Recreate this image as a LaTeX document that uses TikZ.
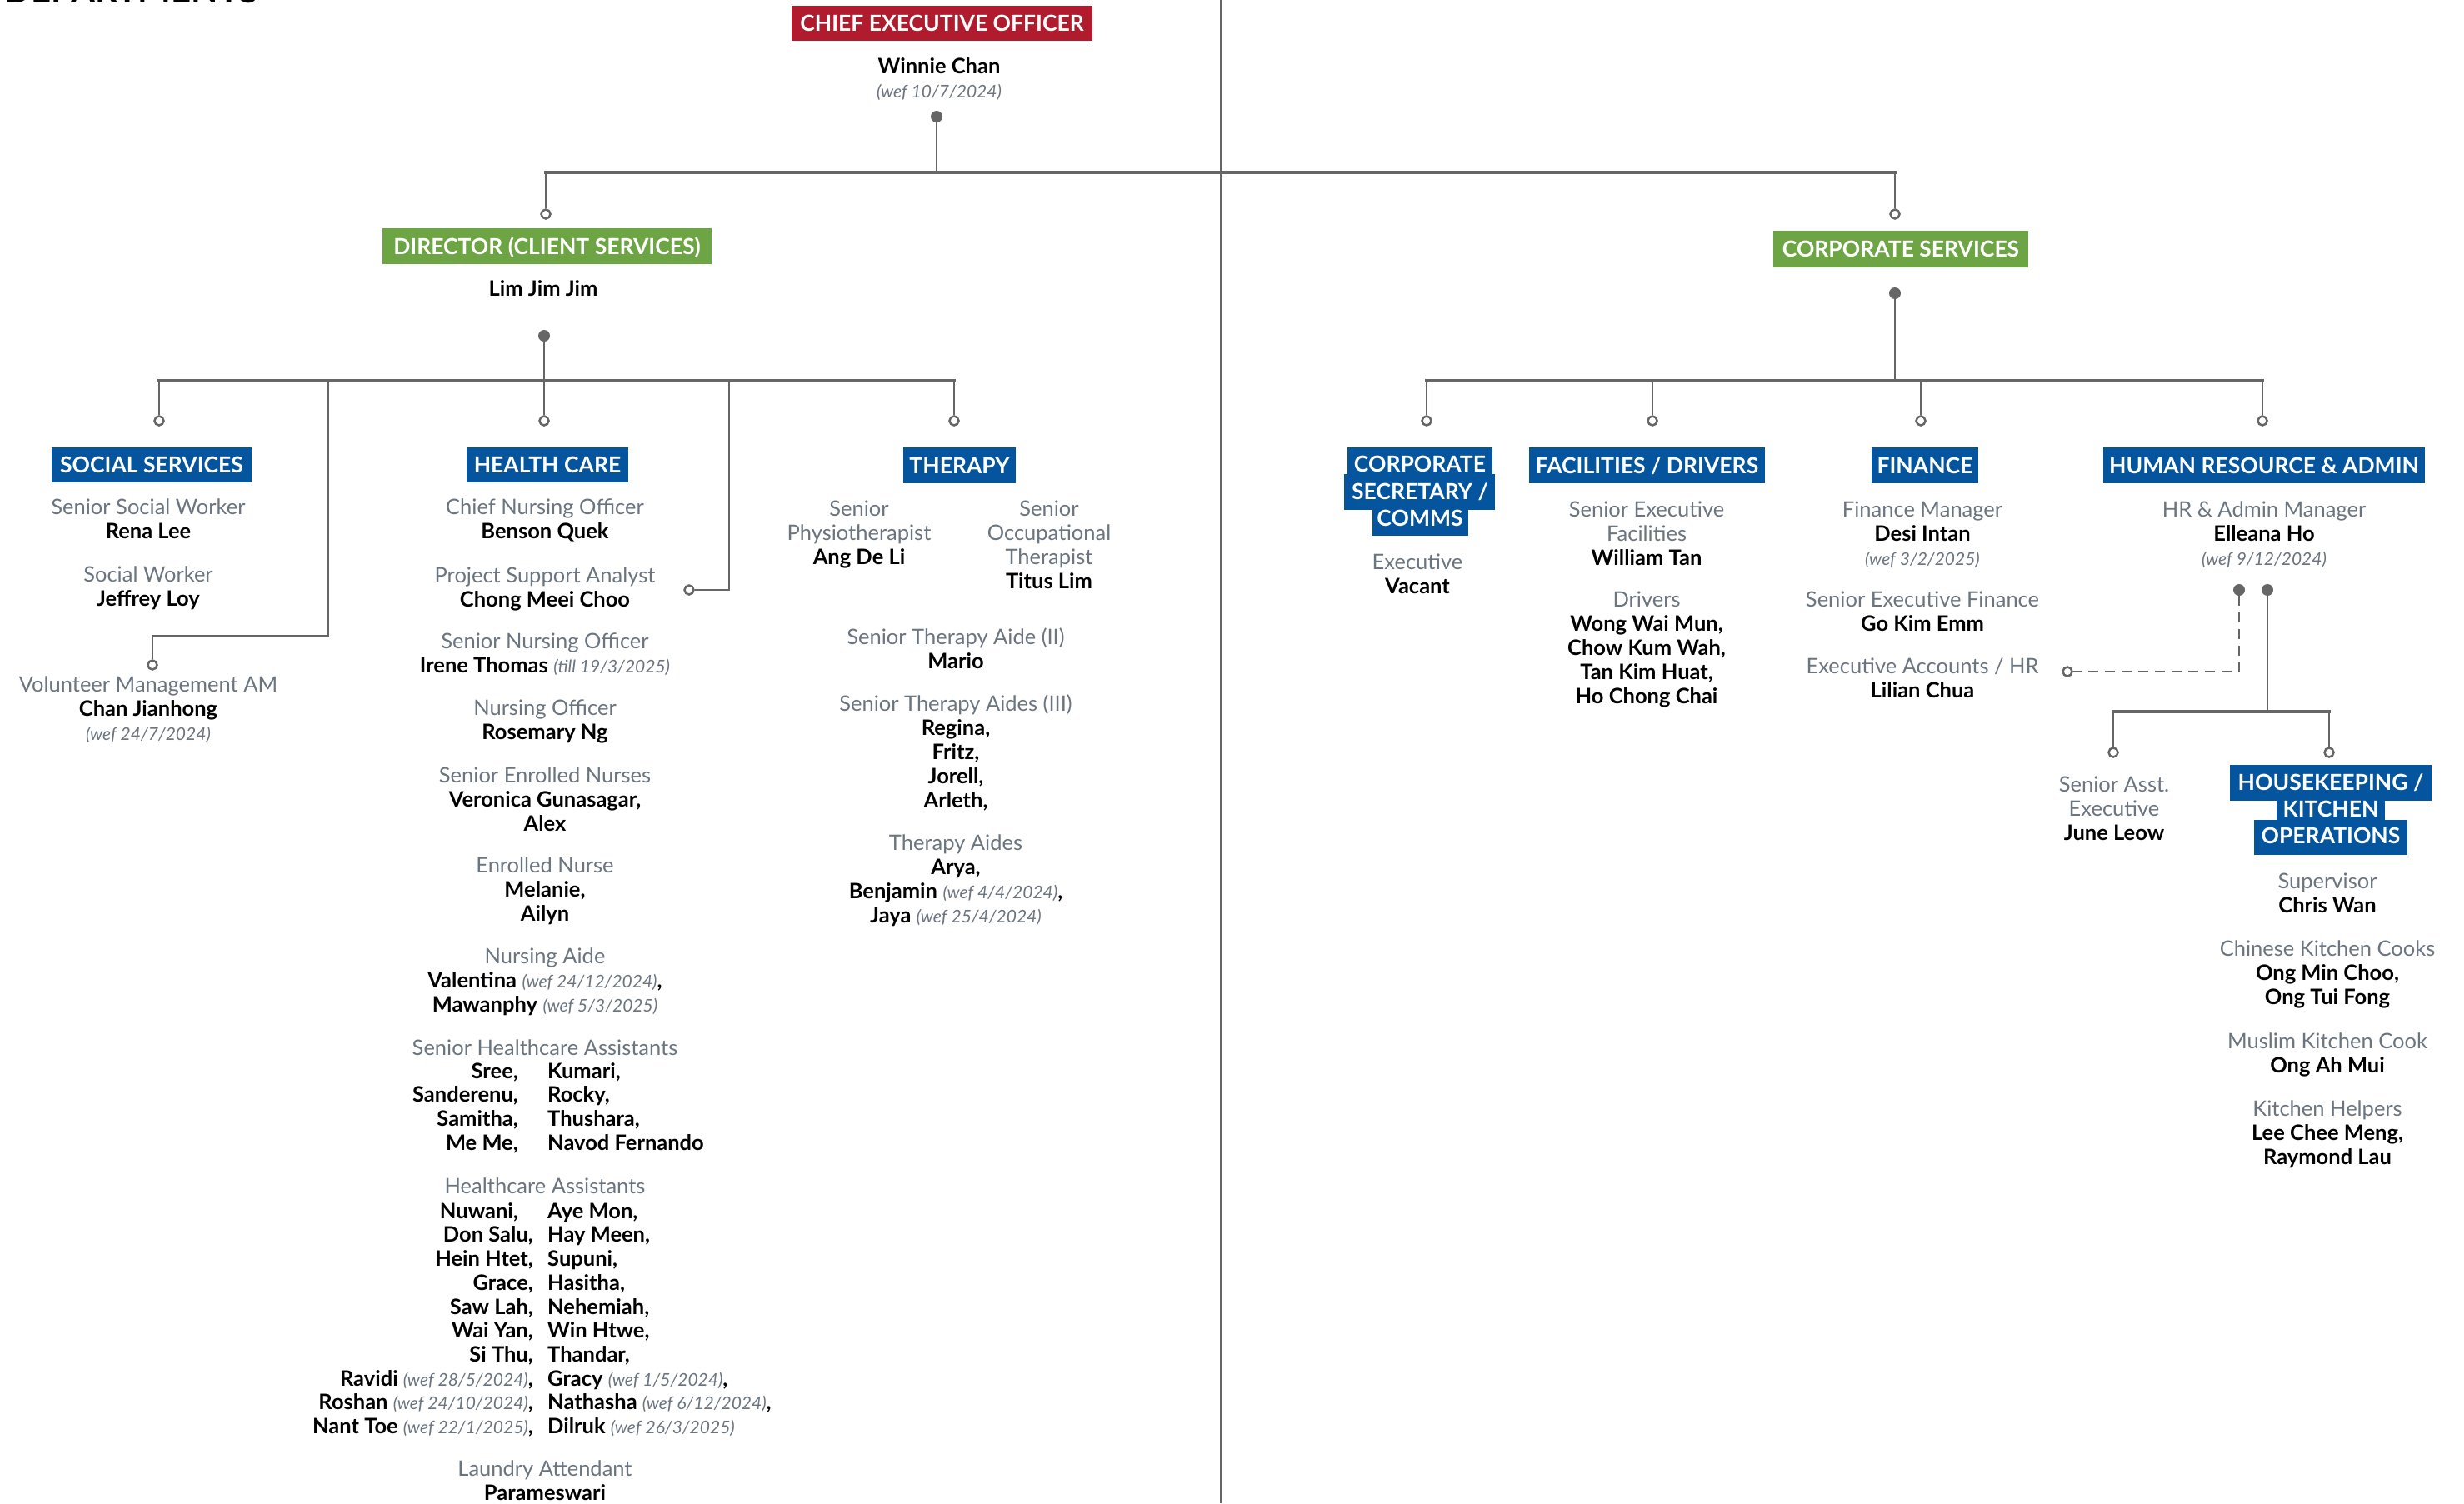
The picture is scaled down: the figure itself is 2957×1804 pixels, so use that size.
\documentclass[tikz,border=0pt]{standalone}
\usepackage{fontspec}
\setmainfont{Lato}
\definecolor{ceored}{HTML}{B01C2E}
\definecolor{dirgreen}{HTML}{6DA544}
\definecolor{deptblue}{HTML}{04559D}
\definecolor{lblgray}{HTML}{6B7580}
\definecolor{linegray}{HTML}{666666}
\newcommand{\jobttl}[1]{{\color{lblgray}#1}}
\newcommand{\pname}[1]{\textbf{#1}}
\newcommand{\wefdate}[1]{{\fontsize{21}{29}\selectfont\mdseries\itshape\color{lblgray}#1}}
\newcommand{\blkstrut}{\rule{0pt}{22pt}}
\tikzset{
  blk/.style={align=center, inner sep=0pt, anchor=north, font=\fontsize{25.5}{29}\selectfont},
  colr/.style={blk, anchor=north east, align=right, font=\fontsize{25.5}{28.7}\selectfont\bfseries},
  coll/.style={blk, anchor=north west, align=left, font=\fontsize{25.5}{28.7}\selectfont\bfseries},
  hdbox/.style={fill=deptblue, text=white, font=\fontsize{26.5}{30}\selectfont\bfseries,
    inner sep=0pt, text height=19pt, text depth=0pt},
  hdtext/.style={text=white, font=\fontsize{26.5}{30}\selectfont\bfseries,
    inner sep=0pt, text height=19pt, text depth=0pt},
  conn/.style={draw=linegray, line width=2.5pt},
  busln/.style={draw=linegray, line width=4pt, line cap=rect},
  dashconn/.style={draw=linegray, line width=2.5pt, dash pattern=on 12pt off 8pt},
  odot/.style={circle, draw=linegray, line width=2.5pt, fill=white, minimum size=11pt, inner sep=0pt},
  fdot/.style={circle, fill=linegray, minimum size=14pt, inner sep=0pt},
}
\begin{document}
\begin{tikzpicture}[x=1pt,y=-1pt]
\useasboundingbox (0,0) rectangle (2957,1804);
\fill[white] (0,0) rectangle (2957,1804);

% cut-off page title
\node[anchor=base west, inner sep=0pt, font=\fontsize{42}{42}\selectfont\bfseries] (deptitle) at (5,4) {DEPARTMENTS};

% divider
\coordinate (divT) at (1465,0);
\coordinate (divB) at (1465,1804);
\draw[draw=linegray, line width=2pt] (divT) -- (divB);

% ---------- headers ----------
\node[hdbox, fill=ceored, minimum width=361pt, minimum height=42pt] (ceo) at (1130.5,28) {CHIEF EXECUTIVE OFFICER};
\node[hdbox, fill=dirgreen, minimum width=395pt, minimum height=43pt] (dir) at (656.5,295.5) {DIRECTOR (CLIENT SERVICES)};
\node[hdbox, fill=dirgreen, minimum width=306pt, minimum height=44pt] (cs) at (2281,299) {CORPORATE SERVICES};
\node[hdbox, minimum width=240pt, minimum height=42pt] (ss) at (182,558) {SOCIAL SERVICES};
\node[hdbox, minimum width=194pt, minimum height=42pt] (hc) at (657,558) {HEALTH CARE};
\node[hdbox, minimum width=135pt, minimum height=43pt] (th) at (1151.5,558.5) {THERAPY};
\node[hdbox, minimum width=283pt, minimum height=43pt] (fac) at (1976.5,558.5) {FACILITIES / DRIVERS};
\node[hdbox, minimum width=128pt, minimum height=43pt] (fin) at (2310,558.5) {FINANCE};
\node[hdbox, minimum width=386pt, minimum height=43pt] (hr) at (2717,558.5) {HUMAN RESOURCE \& ADMIN};

% multi-line headers
\fill[deptblue] (1617,537) rectangle (1791,570);
\fill[deptblue] (1613,569) rectangle (1794,612);
\fill[deptblue] (1647,611) rectangle (1762,643);
\node[hdtext] (secA) at (1704,557) {CORPORATE};
\node[hdtext] (secB) at (1704,590) {SECRETARY /};
\node[hdtext] (secC) at (1704,622) {COMMS};

\fill[deptblue] (2676,918) rectangle (2918,961);
\fill[deptblue] (2732,960) rectangle (2862,985);
\fill[deptblue] (2705,984) rectangle (2889,1026);
\node[hdtext] (hkA) at (2797,939) {HOUSEKEEPING /};
\node[hdtext] (hkB) at (2797,971) {KITCHEN};
\node[hdtext] (hkC) at (2797,1003) {OPERATIONS};

% ---------- top level texts ----------
\node[blk] (ceoname) at (1127,66) {\blkstrut\pname{Winnie Chan}\\\wefdate{(wef 10/7/2024)}};
\node[blk] (dirname) at (652,333) {\blkstrut\pname{Lim Jim Jim}};

% ---------- connectors: CEO ----------
\node[fdot] (ceodot) at (1124,140) {};
\coordinate (ceoj) at (1124,207);
\coordinate (busL) at (655,207);
\coordinate (busR) at (2274,207);
\node[odot] (dircirc) at (655,257) {};
\node[odot] (cscirc) at (2274,257) {};
\draw[conn] (ceodot) -- (ceoj);
\draw[busln] (busL) -- (busR);
\draw[conn] (busL) -- (dircirc);
\draw[conn] (busR) -- (cscirc);

% ---------- connectors: director ----------
\node[fdot] (dirdot) at (653,403) {};
\coordinate (dirj) at (653,457);
\coordinate (cbL) at (191,457);
\coordinate (cbR) at (1145,457);
\node[odot] (sscirc) at (191,505) {};
\node[odot] (hccirc) at (653,505) {};
\node[odot] (thcirc) at (1145,505) {};
\coordinate (vj1) at (394,457);
\coordinate (vj2) at (394,763);
\coordinate (vj3) at (183,763);
\node[odot] (vccirc) at (183,798) {};
\coordinate (pj1) at (875,457);
\coordinate (pj2) at (875,708);
\node[odot] (pacirc) at (827,708) {};
\draw[conn] (dirdot) -- (dirj);
\draw[busln] (cbL) -- (cbR);
\draw[conn] (cbL) -- (sscirc);
\draw[conn] (dirj) -- (hccirc);
\draw[conn] (cbR) -- (thcirc);
\draw[conn] (vj1) -- (vj2) -- (vj3) -- (vccirc);
\draw[conn] (pj1) -- (pj2) -- (pacirc);

% ---------- connectors: corporate ----------
\node[fdot] (csdot) at (2274,352) {};
\coordinate (csj) at (2274,457);
\coordinate (crL) at (1712,457);
\coordinate (crR) at (2715,457);
\coordinate (facj) at (1983,457);
\coordinate (finj) at (2305,457);
\node[odot] (seccirc) at (1712,505) {};
\node[odot] (faccirc) at (1983,505) {};
\node[odot] (fincirc) at (2305,505) {};
\node[odot] (hrcirc) at (2715,505) {};
\draw[conn] (csdot) -- (csj);
\draw[busln] (crL) -- (crR);
\draw[conn] (crL) -- (seccirc);
\draw[conn] (facj) -- (faccirc);
\draw[conn] (finj) -- (fincirc);
\draw[conn] (crR) -- (hrcirc);

% ---------- connectors: HR ----------
\node[fdot] (hrdotA) at (2687,708) {};
\node[fdot] (hrdotB) at (2721,708) {};
\coordinate (hrdash) at (2687,806);
\node[odot] (eacirc) at (2481,806) {};
\coordinate (hrj) at (2721,854);
\coordinate (hbL) at (2536,854);
\coordinate (hbR) at (2795,854);
\node[odot] (sacirc) at (2536,903) {};
\node[odot] (hkcirc) at (2795,903) {};
\draw[dashconn] (hrdotA) -- (hrdash) -- (eacirc);
\draw[conn] (hrdotB) -- (hrj);
\draw[busln] (hbL) -- (hbR);
\draw[conn] (hbL) -- (sacirc);
\draw[conn] (hbR) -- (hkcirc);

% ---------- social services ----------
\node[blk] (ssw) at (178,595) {\blkstrut\jobttl{Senior Social Worker}\\\pname{Rena Lee}};
\node[blk] (sw) at (178,676) {\blkstrut\jobttl{Social Worker}\\\pname{Jeffrey Loy}};
\node[blk] (vol) at (178,808) {\blkstrut\jobttl{Volunteer Management AM}\\\pname{Chan Jianhong}\\\wefdate{(wef 24/7/2024)}};

% ---------- health care ----------
\node[blk] (cno) at (654,595) {\blkstrut\jobttl{Chief Nursing Officer}\\\pname{Benson Quek}};
\node[blk] (psa) at (654,677) {\blkstrut\jobttl{Project Support Analyst}\\\pname{Chong Meei Choo}};
\node[blk] (sno) at (654,756) {\blkstrut\jobttl{Senior Nursing Officer}\\\pname{Irene Thomas} \wefdate{(till 19/3/2025)}};
\node[blk] (nof) at (654,836) {\blkstrut\jobttl{Nursing Officer}\\\pname{Rosemary Ng}};
\node[blk] (sen) at (654,917) {\blkstrut\jobttl{Senior Enrolled Nurses}\\\pname{Veronica Gunasagar,}\\\pname{Alex}};
\node[blk] (enr) at (654,1025) {\blkstrut\jobttl{Enrolled Nurse}\\\pname{Melanie,}\\\pname{Ailyn}};
\node[blk] (naide) at (654,1134) {\blkstrut\jobttl{Nursing Aide}\\\pname{Valentina} \wefdate{(wef 24/12/2024)}\pname{,}\\\pname{Mawanphy} \wefdate{(wef 5/3/2025)}};
\node[blk] (sha) at (654,1244) {\blkstrut\jobttl{Senior Healthcare Assistants}};
\node[colr] (shaL) at (622,1272) {\blkstrut Sree,\\Sanderenu,\\Samitha,\\Me Me,};
\node[coll] (shaR) at (657,1272) {\blkstrut Kumari,\\Rocky,\\Thushara,\\Navod Fernando};
\node[blk] (hca) at (654,1410) {\blkstrut\jobttl{Healthcare Assistants}};
\node[colr] (hcaL) at (640,1440) {\blkstrut Nuwani,\hspace*{18pt}\\Don Salu,\hspace*{18pt}\\Hein Htet,\hspace*{18pt}\\Grace,\hspace*{18pt}\\Saw Lah,\hspace*{18pt}\\Wai Yan,\hspace*{18pt}\\Si Thu,\hspace*{18pt}\\Ravidi \wefdate{(wef 28/5/2024)},\hspace*{18pt}\\Roshan \wefdate{(wef 24/10/2024)},\hspace*{7pt}\\Nant Toe \wefdate{(wef 22/1/2025)},};
\node[coll] (hcaR) at (657,1440) {\blkstrut Aye Mon,\\Hay Meen,\\Supuni,\\Hasitha,\\Nehemiah,\\Win Htwe,\\Thandar,\\Gracy \wefdate{(wef 1/5/2024)},\\Nathasha \wefdate{(wef 6/12/2024)},\\Dilruk \wefdate{(wef 26/3/2025)}};
\node[blk] (laun) at (654,1749) {\blkstrut\jobttl{Laundry Attendant}\\\pname{Parameswari}};

% ---------- therapy ----------
\node[blk] (phys) at (1031,597) {\blkstrut\jobttl{Senior}\\\jobttl{Physiotherapist}\\\pname{Ang De Li}};
\node[blk] (occ) at (1259,597) {\blkstrut\jobttl{Senior}\\\jobttl{Occupational}\\\jobttl{Therapist}\\\pname{Titus Lim}};
\node[blk] (sta2) at (1147,751) {\blkstrut\jobttl{Senior Therapy Aide (II)}\\\pname{Mario}};
\node[blk] (sta3) at (1147,831) {\blkstrut\jobttl{Senior Therapy Aides (III)}\\\pname{Regina,}\\\pname{Fritz,}\\\pname{Jorell,}\\\pname{Arleth,}};
\node[blk] (taide) at (1147,998) {\blkstrut\jobttl{Therapy Aides}\\\pname{Arya,}\\\pname{Benjamin} \wefdate{(wef 4/4/2024)}\pname{,}\\\pname{Jaya} \wefdate{(wef 25/4/2024)}};

% ---------- corporate ----------
\node[blk] (secexec) at (1701,661) {\blkstrut\jobttl{Executive}\\\pname{Vacant}};
\node[blk] (facsen) at (1976,598) {\blkstrut\jobttl{Senior Executive}\\\jobttl{Facilities}\\\pname{William Tan}};
\node[blk] (drivers) at (1976,706) {\blkstrut\jobttl{Drivers}\\\pname{Wong Wai Mun,}\\\pname{Chow Kum Wah,}\\\pname{Tan Kim Huat,}\\\pname{Ho Chong Chai}};
\node[blk] (finmgr) at (2307,598) {\blkstrut\jobttl{Finance Manager}\\\pname{Desi Intan}\\\wefdate{(wef 3/2/2025)}};
\node[blk] (finsen) at (2307,706) {\blkstrut\jobttl{Senior Executive Finance}\\\pname{Go Kim Emm}};
\node[blk] (finacc) at (2307,786) {\blkstrut\jobttl{Executive Accounts / HR}\\\pname{Lilian Chua}};
\node[blk] (hrmgr) at (2717,598) {\blkstrut\jobttl{HR \& Admin Manager}\\\pname{Elleana Ho}\\\wefdate{(wef 9/12/2024)}};
\node[blk] (saexec) at (2537,928) {\blkstrut\jobttl{Senior Asst.}\\\jobttl{Executive}\\\pname{June Leow}};
\node[blk] (hksup) at (2793,1044) {\blkstrut\jobttl{Supervisor}\\\pname{Chris Wan}};
\node[blk] (hkcook) at (2793,1125) {\blkstrut\jobttl{Chinese Kitchen Cooks}\\\pname{Ong Min Choo,}\\\pname{Ong Tui Fong}};
\node[blk] (hkmus) at (2793,1236) {\blkstrut\jobttl{Muslim Kitchen Cook}\\\pname{Ong Ah Mui}};
\node[blk] (hkhelp) at (2793,1317) {\blkstrut\jobttl{Kitchen Helpers}\\\pname{Lee Chee Meng,}\\\pname{Raymond Lau}};
\end{tikzpicture}
\end{document}
